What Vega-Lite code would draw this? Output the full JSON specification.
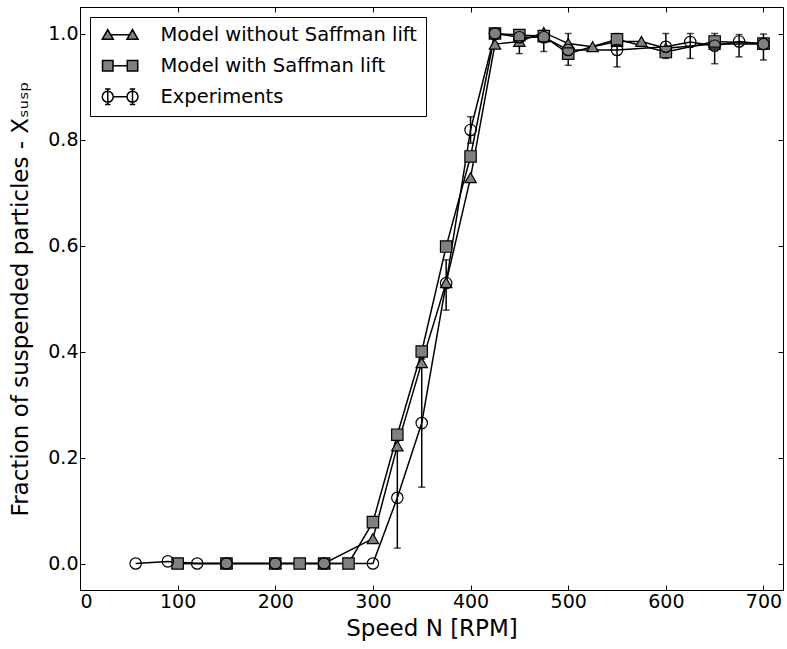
{
  "$schema": "https://vega.github.io/schema/vega-lite/v6.json",
  "width": 703,
  "height": 583,
  "autosize": {"type": "none"},
  "padding": {"left": 80, "top": 7, "right": 4, "bottom": 59},
  "config": {
    "font": "DejaVu Sans",
    "view": {"stroke": "black", "strokeWidth": 1},
    "axis": {
      "grid": false,
      "domainColor": "black",
      "domainWidth": 1,
      "tickColor": "black",
      "tickSize": -5,
      "tickWidth": 1,
      "labelFontSize": 19,
      "labelColor": "black",
      "titleFontSize": 23,
      "titleFontWeight": "normal",
      "titleColor": "black"
    }
  },
  "resolve": {
    "axis": {"x": "independent", "y": "independent"},
    "scale": {"shape": "independent", "fill": "independent"}
  },
  "datasets": {
    "pts": [
      {"series": "Model without Saffman lift", "speed": 100, "frac": 0},
      {"series": "Model without Saffman lift", "speed": 150, "frac": 0},
      {"series": "Model without Saffman lift", "speed": 200, "frac": 0},
      {"series": "Model without Saffman lift", "speed": 250, "frac": 0},
      {"series": "Model without Saffman lift", "speed": 300, "frac": 0.047},
      {"series": "Model without Saffman lift", "speed": 325, "frac": 0.222},
      {"series": "Model without Saffman lift", "speed": 350, "frac": 0.379},
      {"series": "Model without Saffman lift", "speed": 375, "frac": 0.53},
      {"series": "Model without Saffman lift", "speed": 400, "frac": 0.728},
      {"series": "Model without Saffman lift", "speed": 425, "frac": 0.98},
      {"series": "Model without Saffman lift", "speed": 450, "frac": 0.985},
      {"series": "Model without Saffman lift", "speed": 475, "frac": 1.002},
      {"series": "Model without Saffman lift", "speed": 500, "frac": 0.981},
      {"series": "Model without Saffman lift", "speed": 525, "frac": 0.975},
      {"series": "Model without Saffman lift", "speed": 550, "frac": 0.985},
      {"series": "Model without Saffman lift", "speed": 575, "frac": 0.985},
      {"series": "Model without Saffman lift", "speed": 600, "frac": 0.972},
      {"series": "Model without Saffman lift", "speed": 650, "frac": 0.98},
      {"series": "Model without Saffman lift", "speed": 700, "frac": 0.98},
      {"series": "Model with Saffman lift", "speed": 100, "frac": 0},
      {"series": "Model with Saffman lift", "speed": 150, "frac": 0},
      {"series": "Model with Saffman lift", "speed": 200, "frac": 0},
      {"series": "Model with Saffman lift", "speed": 225, "frac": 0},
      {"series": "Model with Saffman lift", "speed": 250, "frac": 0},
      {"series": "Model with Saffman lift", "speed": 275, "frac": 0},
      {"series": "Model with Saffman lift", "speed": 300, "frac": 0.078},
      {"series": "Model with Saffman lift", "speed": 325, "frac": 0.243},
      {"series": "Model with Saffman lift", "speed": 350, "frac": 0.4},
      {"series": "Model with Saffman lift", "speed": 375, "frac": 0.598},
      {"series": "Model with Saffman lift", "speed": 400, "frac": 0.768},
      {"series": "Model with Saffman lift", "speed": 425, "frac": 1.0},
      {"series": "Model with Saffman lift", "speed": 450, "frac": 0.997},
      {"series": "Model with Saffman lift", "speed": 475, "frac": 0.995},
      {"series": "Model with Saffman lift", "speed": 500, "frac": 0.962},
      {"series": "Model with Saffman lift", "speed": 550, "frac": 0.989},
      {"series": "Model with Saffman lift", "speed": 600, "frac": 0.965},
      {"series": "Model with Saffman lift", "speed": 650, "frac": 0.985},
      {"series": "Model with Saffman lift", "speed": 700, "frac": 0.981},
      {"series": "Experiments", "speed": 57, "frac": 0},
      {"series": "Experiments", "speed": 90, "frac": 0.004},
      {"series": "Experiments", "speed": 120, "frac": 0},
      {"series": "Experiments", "speed": 150, "frac": 0},
      {"series": "Experiments", "speed": 200, "frac": 0},
      {"series": "Experiments", "speed": 250, "frac": 0},
      {"series": "Experiments", "speed": 300, "frac": 0},
      {"series": "Experiments", "speed": 325, "frac": 0.124, "lo": 0.029, "hi": 0.22},
      {"series": "Experiments", "speed": 350, "frac": 0.265, "lo": 0.144, "hi": 0.386},
      {"series": "Experiments", "speed": 375, "frac": 0.529, "lo": 0.478, "hi": 0.573},
      {"series": "Experiments", "speed": 400, "frac": 0.818, "lo": 0.793, "hi": 0.843},
      {"series": "Experiments", "speed": 425, "frac": 1.0},
      {"series": "Experiments", "speed": 450, "frac": 0.993, "lo": 0.962, "hi": 1.0},
      {"series": "Experiments", "speed": 475, "frac": 0.993, "lo": 0.966, "hi": 1.0},
      {"series": "Experiments", "speed": 500, "frac": 0.969, "lo": 0.94, "hi": 1.0},
      {"series": "Experiments", "speed": 550, "frac": 0.969, "lo": 0.937, "hi": 1.0},
      {"series": "Experiments", "speed": 600, "frac": 0.975, "lo": 0.953, "hi": 1.0},
      {"series": "Experiments", "speed": 625, "frac": 0.984, "lo": 0.953, "hi": 1.0},
      {"series": "Experiments", "speed": 650, "frac": 0.977, "lo": 0.943, "hi": 1.0},
      {"series": "Experiments", "speed": 675, "frac": 0.985, "lo": 0.956, "hi": 0.998},
      {"series": "Experiments", "speed": 700, "frac": 0.98, "lo": 0.95, "hi": 0.999}
    ]
  },
  "data": {"name": "pts"},
  "layer": [
    {
      "mark": {"type": "line", "color": "black", "strokeWidth": 1.5},
      "encoding": {
        "x": {"field": "speed", "type": "quantitative", "scale": {"domain": [0, 720], "nice": false, "zero": false},
              "axis": {"orient": "bottom", "values": [0, 100, 200, 300, 400, 500, 600, 700], "title": "Speed N [RPM]", "labelPadding": 7, "titlePadding": 6}},
        "y": {"field": "frac", "type": "quantitative", "scale": {"domain": [-0.05, 1.05], "nice": false, "zero": false},
              "axis": {"orient": "left", "values": [0, 0.2, 0.4, 0.6, 0.8, 1.0], "format": ".1f", "title": "Fraction of suspended particles - Xₛᵤₛₚ", "labelPadding": 7, "titlePadding": 15}},
        "detail": {"field": "series", "type": "nominal"}
      }
    },
    {
      "transform": [{"filter": "isValid(datum.lo)"}],
      "mark": {"type": "rule", "color": "black", "strokeWidth": 1.5},
      "encoding": {
        "x": {"field": "speed", "type": "quantitative", "axis": null},
        "y": {"field": "lo", "type": "quantitative", "axis": null},
        "y2": {"field": "hi"}
      }
    },
    {
      "transform": [{"filter": "isValid(datum.lo)"}],
      "mark": {"type": "tick", "orient": "horizontal", "color": "black", "size": 7, "thickness": 1.5},
      "encoding": {
        "x": {"field": "speed", "type": "quantitative", "axis": null},
        "y": {"field": "lo", "type": "quantitative", "axis": null}
      }
    },
    {
      "transform": [{"filter": "isValid(datum.lo)"}],
      "mark": {"type": "tick", "orient": "horizontal", "color": "black", "size": 7, "thickness": 1.5},
      "encoding": {
        "x": {"field": "speed", "type": "quantitative", "axis": null},
        "y": {"field": "hi", "type": "quantitative", "axis": null}
      }
    },
    {
      "mark": {"type": "point", "stroke": "black", "strokeWidth": 1.2, "size": 130, "opacity": 1, "fillOpacity": 1},
      "encoding": {
        "x": {"field": "speed", "type": "quantitative", "axis": {"orient": "top", "labels": false, "title": null, "domain": false, "values": [0, 100, 200, 300, 400, 500, 600, 700]}},
        "y": {"field": "frac", "type": "quantitative", "axis": {"orient": "right", "labels": false, "title": null, "domain": false, "values": [0, 0.2, 0.4, 0.6, 0.8, 1.0]}},
        "shape": {
          "field": "series", "type": "nominal",
          "scale": {"domain": ["Model without Saffman lift", "Model with Saffman lift", "Experiments", "none-shape"], "range": ["triangle-up", "square", "circle", "circle"]},
          "legend": null
        },
        "fill": {
          "field": "series", "type": "nominal",
          "scale": {"domain": ["Model without Saffman lift", "Model with Saffman lift", "Experiments", "none-fill"], "range": ["#808080", "#808080", "transparent", "transparent"]},
          "legend": null
        }
      }
    },
    {
      "transform": [{"filter": "datum.speed < 0"}],
      "mark": {"type": "point", "stroke": "black", "strokeWidth": 1.2, "opacity": 1, "fillOpacity": 1},
      "encoding": {
        "x": {"field": "speed", "type": "quantitative", "axis": null},
        "y": {"field": "frac", "type": "quantitative", "axis": null},
        "shape": {
          "field": "series", "type": "nominal",
          "scale": {"domain": ["Model without Saffman lift", "Model with Saffman lift", "Experiments"],
                    "range": ["M0,-0.95L1,0.8L-1,0.8Z M4.5,-0.95L5.5,0.8L3.5,0.8Z M0.55,0H3.95",
                              "M-0.95,-0.95H0.95V0.95H-0.95Z M3.55,-0.95H5.45V0.95H3.55Z M0.95,0H3.55",
                              "M-1,0A1,1 0 1,1 1,0A1,1 0 1,1 -1,0Z M3.5,0A1,1 0 1,1 5.5,0A1,1 0 1,1 3.5,0Z M1,0H3.5 M0,-1.4V1.4 M-0.5,-1.4H0.5 M-0.5,1.4H0.5 M4.5,-1.4V1.4 M4,-1.4H5 M4,1.4H5"]},
          "legend": {
            "title": null, "orient": "top-left", "offset": 10, "padding": 8,
            "strokeColor": "black", "fillColor": "white", "cornerRadius": 0,
            "labelFontSize": 19.5, "labelColor": "black", "labelOffset": 43, "labelLimit": 0,
            "symbolSize": 121, "rowPadding": 10
          }
        },
        "fill": {
          "field": "series", "type": "nominal",
          "scale": {"domain": ["Model without Saffman lift", "Model with Saffman lift", "Experiments"], "range": ["#808080", "#808080", "transparent"]},
          "legend": {
            "title": null, "orient": "top-left", "offset": 10, "padding": 8,
            "strokeColor": "black", "fillColor": "white", "cornerRadius": 0,
            "labelFontSize": 19.5, "labelColor": "black", "labelOffset": 43, "labelLimit": 0,
            "symbolSize": 121, "rowPadding": 10
          }
        }
      }
    }
  ]
}
